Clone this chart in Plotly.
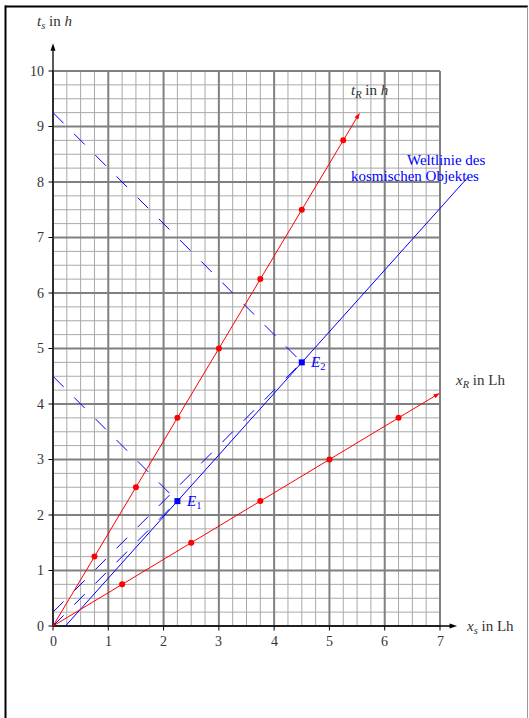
import plotly.graph_objects as go

# ---------------- data ----------------
x_ticks = [0, 1, 2, 3, 4, 5, 6, 7]
t_ticks = [0, 1, 2, 3, 4, 5, 6, 7, 8, 9, 10]
minor_step = 0.25

# red: moving frame axes (v = 0.6 c)
tR_dots_x = [0.75, 1.5, 2.25, 3.0, 3.75, 4.5, 5.25]
tR_dots_t = [1.25, 2.5, 3.75, 5.0, 6.25, 7.5, 8.75]
xR_dots_x = [1.25, 2.5, 3.75, 5.0, 6.25]
xR_dots_t = [0.75, 1.5, 2.25, 3.0, 3.75]
tR_axis_x = [0, 5.55]
tR_axis_t = [0, 9.25]
xR_axis_x = [0, 7.0]
xR_axis_t = [0, 4.2]

# blue: world line of the cosmic object
world_x = [0.225, 2.25, 4.5, 7.5]
world_t = [0.0, 2.25, 4.75, 8.08]
event_x = [2.25, 4.5]
event_t = [2.25, 4.75]
event_idx = ["1", "2"]

# blue dashed light signals
light1_x = [0, 2.25]; light1_t = [0, 2.25]
light2_x = [0, 4.5];  light2_t = [0.25, 4.75]
back1_x = [0, 2.25];  back1_t = [4.5, 2.25]
back2_x = [0, 4.5];   back2_t = [9.25, 4.75]

# axis arrow ends
xs_arrow_end = 7.31
ts_arrow_end = 10.5

# ---------------- layout geometry ----------------
W, H = 529, 718
X0_PX, X7_PX = 53, 440
Y0_PX, Y10_PX = 626, 71
ppx = (X7_PX - X0_PX) / 7.0
ppy = (Y0_PX - Y10_PX) / 10.0
x_range = [-X0_PX / ppx, (W - X0_PX) / ppx]
y_range = [-(H - Y0_PX) / ppy, Y0_PX / ppy]

FONT = "Liberation Serif"
TXT = "#333333"
BLUE = "#0000ff"
RED = "#ff0000"

fig = go.Figure()

# grid
xmax, tmax = x_ticks[-1], t_ticks[-1]
n_x = int(round(xmax / minor_step))
n_t = int(round(tmax / minor_step))
minor_x, minor_y, major_x, major_y = [], [], [], []
for k in range(n_x + 1):
    v = k * minor_step
    tx, ty = (major_x, major_y) if k % 4 == 0 else (minor_x, minor_y)
    tx += [v, v, None]; ty += [0, tmax, None]
for k in range(n_t + 1):
    v = k * minor_step
    tx, ty = (major_x, major_y) if k % 4 == 0 else (minor_x, minor_y)
    tx += [0, xmax, None]; ty += [v, v, None]
fig.add_trace(go.Scatter(x=minor_x, y=minor_y, mode="lines",
                         line=dict(color="#a9a9a9", width=1), hoverinfo="skip"))
fig.add_trace(go.Scatter(x=major_x, y=major_y, mode="lines",
                         line=dict(color="#808080", width=2), hoverinfo="skip"))

# tick marks
tk_x, tk_y = [], []
tl = 4.5
for v in x_ticks:
    tk_x += [v, v, None]; tk_y += [0, -tl / ppy, None]
for v in t_ticks:
    tk_x += [0, -tl / ppx, None]; tk_y += [v, v, None]
fig.add_trace(go.Scatter(x=tk_x, y=tk_y, mode="lines",
                         line=dict(color="black", width=1), hoverinfo="skip"))

# axes with arrows
fig.add_trace(go.Scatter(x=[0, xs_arrow_end], y=[0, 0], mode="lines+markers",
                         line=dict(color="black", width=1.3),
                         marker=dict(symbol="arrow", size=8, angleref="previous", color="black")))
fig.add_trace(go.Scatter(x=[0, 0], y=[0, ts_arrow_end], mode="lines+markers",
                         line=dict(color="black", width=1.3),
                         marker=dict(symbol="arrow", size=8, angleref="previous", color="black")))

# dashed blue light lines
for lx, lt in [(light1_x, light1_t), (light2_x, light2_t), (back1_x, back1_t), (back2_x, back2_t)]:
    fig.add_trace(go.Scatter(x=lx, y=lt, mode="lines",
                             line=dict(color=BLUE, width=1, dash="15px,15px")))

# world line
fig.add_trace(go.Scatter(x=world_x, y=world_t, mode="lines",
                         line=dict(color=BLUE, width=1)))

# red axes
for ax_x, ax_t in [(tR_axis_x, tR_axis_t), (xR_axis_x, xR_axis_t)]:
    fig.add_trace(go.Scatter(x=ax_x, y=ax_t, mode="lines+markers",
                             line=dict(color=RED, width=1),
                             marker=dict(symbol="arrow", size=7, angleref="previous", color=RED)))
fig.add_trace(go.Scatter(x=tR_dots_x + xR_dots_x, y=tR_dots_t + xR_dots_t, mode="markers",
                         marker=dict(color=RED, size=6)))

# events
fig.add_trace(go.Scatter(x=event_x, y=event_t, mode="markers",
                         marker=dict(color=BLUE, size=6, symbol="square")))

ann = []
tick_font = dict(size=14, color=TXT, family=FONT)
for v in x_ticks:
    ann.append(dict(x=v, y=-15 / ppy, text=str(v), showarrow=False, font=tick_font))
for v in t_ticks:
    ann.append(dict(x=-7 / ppx, y=v, text=str(v), showarrow=False, xanchor="right",
                    font=tick_font))

lab = dict(size=15, color=TXT, family=FONT)
blue_lab = dict(size=15, color=BLUE, family=FONT)
ann += [
    dict(x=0.02, y=10.88, text="<i>t</i><sub><i>s</i></sub> in <i>h</i>", showarrow=False, font=lab),
    dict(x=7.44, y=-0.02, text="<i>x</i><sub><i>s</i></sub> in Lh", showarrow=False,
         xanchor="left", font=lab),
    dict(x=5.72, y=9.64, text="<i>t</i><sub><i>R</i></sub> in <i>h</i>", showarrow=False, font=lab),
    dict(x=7.72, y=4.41, text="<i>x</i><sub><i>R</i></sub> in Lh", showarrow=False, font=lab),
    dict(x=7.86, y=8.40, text="Weltlinie des", showarrow=False,
         xanchor="right", font=blue_lab),
    dict(x=7.74, y=8.11, text="kosmischen Objektes", showarrow=False,
         xanchor="right", font=blue_lab),
]
for ex, et, nm in zip(event_x, event_t, event_idx):
    ann.append(dict(x=ex + 0.12, y=et - 0.02, text="<i>E</i><sub>" + nm + "</sub>",
                    showarrow=False, xanchor="left", font=blue_lab))

# page frame
shapes = [
    dict(type="line", xref="paper", yref="paper", x0=5 / W, x1=528 / W,
         y0=1 - 6.5 / H, y1=1 - 6.5 / H, line=dict(color="black", width=2)),
    dict(type="line", xref="paper", yref="paper", x0=5.5 / W, x1=5.5 / W,
         y0=-0.01, y1=1 - 5.5 / H, line=dict(color="black", width=2)),
    dict(type="line", xref="paper", yref="paper", x0=527.5 / W, x1=527.5 / W,
         y0=-0.01, y1=1 - 6.5 / H, line=dict(color="#999999", width=1)),
]

fig.update_layout(
    width=W, height=H, margin=dict(l=0, r=0, t=0, b=0),
    paper_bgcolor="white", plot_bgcolor="white", showlegend=False,
    xaxis=dict(range=x_range, visible=False, fixedrange=True),
    yaxis=dict(range=y_range, visible=False, fixedrange=True),
    annotations=ann, shapes=shapes,
)
fig.write_html("out.html", config={"displayModeBar": False},
               post_script="document.body.style.margin='0';document.body.style.overflow='hidden';")
